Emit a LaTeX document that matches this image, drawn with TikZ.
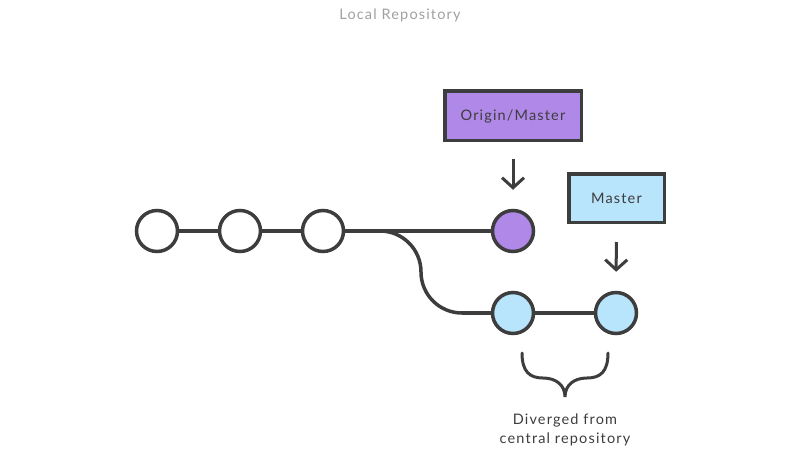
\documentclass[tikz,border=0pt]{standalone}
\usepackage{fontspec}
\setmainfont{Lato}[LetterSpace=8]
\usetikzlibrary{arrows.meta}
\definecolor{ink}{HTML}{3D3D3D}
\definecolor{purp}{HTML}{B088E8}
\definecolor{lblue}{HTML}{B8E4FC}
\definecolor{titlegray}{HTML}{A0A0A0}
\tikzset{
  commit/.style={circle, draw=ink, line width=3.5pt, minimum size=41pt, inner sep=0pt, fill=white},
  label box/.style={rectangle, draw=ink, line width=3.5pt, inner sep=0pt, text depth=0pt, font=\fontsize{14.5}{16}\selectfont, text=ink},
  link/.style={draw=ink, line width=3.5pt},
  pointer/.style={draw=ink, line width=3pt, -{Straight Barb[length=10pt,width=22pt]}},
  caption/.style={font=\fontsize{14.5}{19}\selectfont, text=ink, align=center}
}
\begin{document}
\begin{tikzpicture}[x=1pt,y=1pt]
\useasboundingbox (0,0) rectangle (800,-453);
\node[font=\fontsize{14.5}{16}\selectfont, text=titlegray] (title) at (400,-15) {Local Repository};
% main line
\coordinate (bstart) at (380,-231);
\coordinate (bend) at (462,-313);
\draw[link] (323,-231) -- (bstart) arc (90:0:41) arc (180:270:41);
\node[commit] (c1) at (157,-231) {};
\node[commit] (c2) at (240,-231) {};
\node[commit] (c3) at (323,-231) {};
\node[commit, fill=purp] (pc) at (513,-231) {};
\node[commit, fill=lblue] (b1) at (513,-313) {};
\node[commit, fill=lblue] (b2) at (616,-313) {};
\draw[link] (c1) -- (c2);
\draw[link] (c2) -- (c3);
\draw[link] (c3) -- (pc);
\draw[link] (bend) -- (b1);
\draw[link] (b1) -- (b2);
% labels
\node[label box, fill=purp, minimum width=136.5pt, minimum height=49.5pt] (om) at (513,-115.5) {Origin/Master};
\node[label box, fill=lblue, minimum width=95.5pt, minimum height=48.5pt] (ms) at (616.5,-198) {Master};
\draw[pointer, shorten <=17pt, shorten >=19pt] (om.south) -- (pc.north);
\draw[pointer, shorten <=18pt, shorten >=19pt] (ms.south) -- (b2.north);
% brace
\draw[ink, line width=3pt, line cap=round]
  (522,-353) .. controls (522,-372) and (530,-378) .. (543,-378)
  .. controls (556,-378) and (565,-385) .. (565,-397)
  .. controls (565,-385) and (574,-378) .. (587,-378)
  .. controls (600,-378) and (608,-372) .. (608,-353);
\node[caption] (cap) at (565,-430) {Diverged from\\central repository};
\end{tikzpicture}
\end{document}
